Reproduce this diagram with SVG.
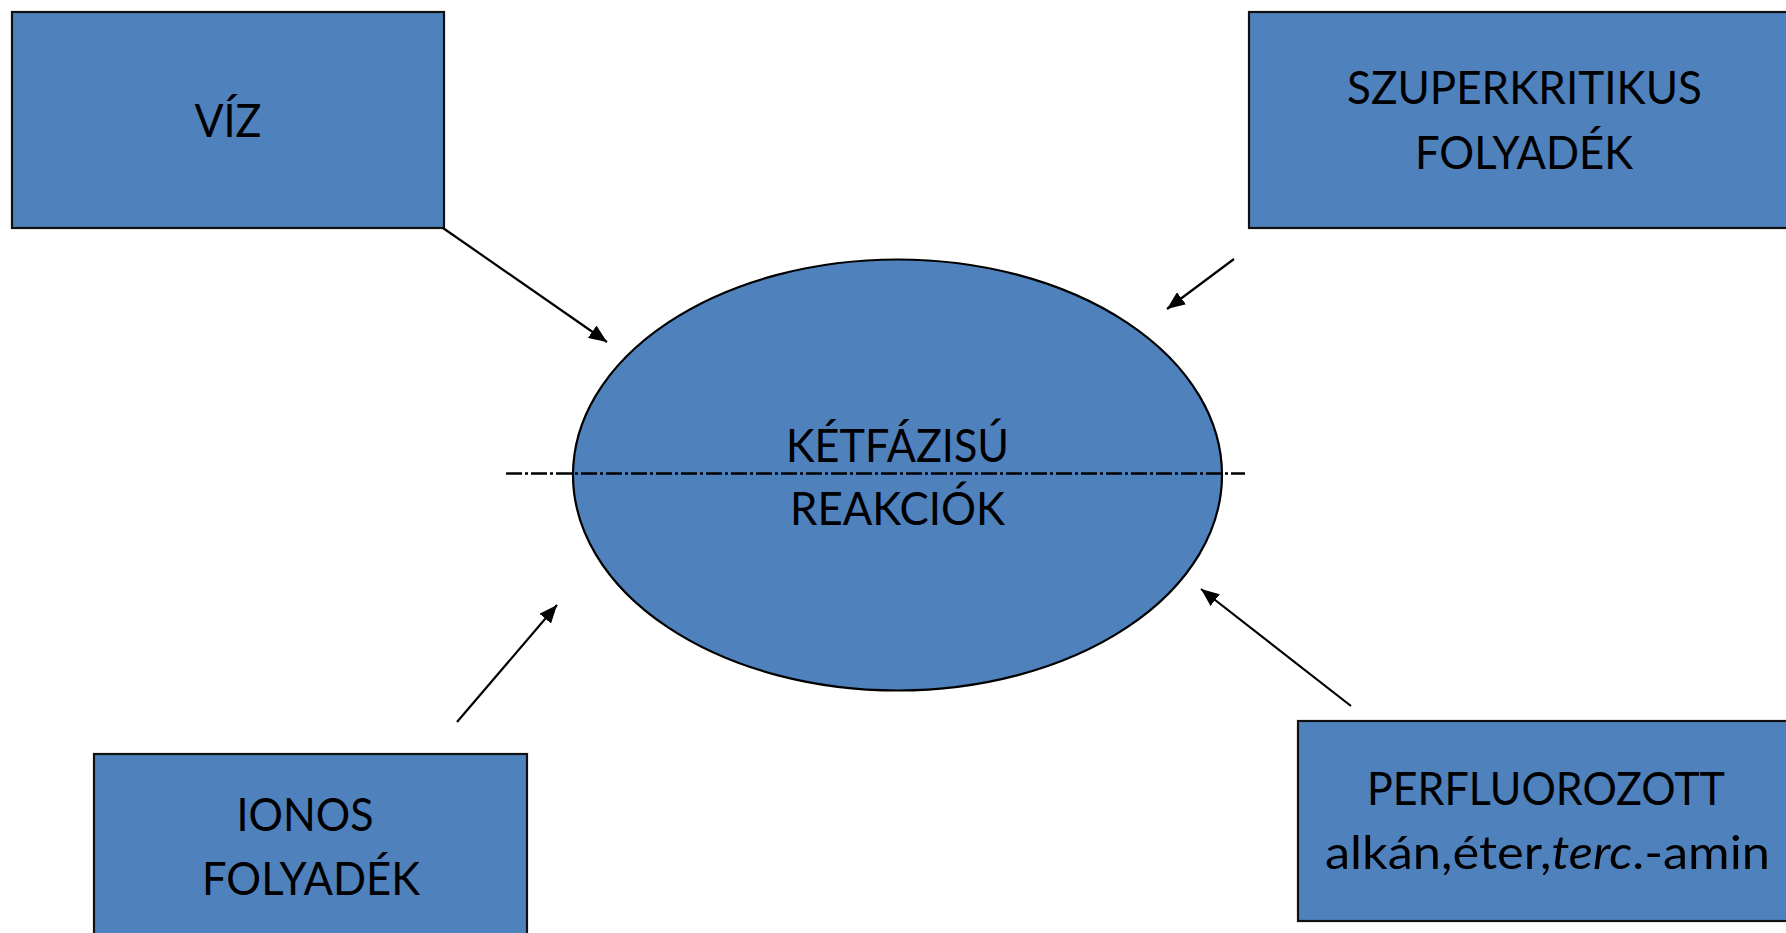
<svg xmlns="http://www.w3.org/2000/svg" width="1786" height="933" viewBox="0 0 1786 933">
<style>
.box{fill:#4F81BD;stroke:#111;stroke-width:2.2}
.ell{fill:#4F81BD;stroke:#000;stroke-width:2.2}
.t{font-family:Lato,"Open Sans",sans-serif;font-size:47px;fill:#000;text-anchor:middle}
.con{stroke:#000;stroke-width:2.2;fill:none;marker-end:url(#ah)}
.dash{stroke:#000;stroke-width:2.4;fill:none;stroke-dasharray:16 3 3 3}
</style>
<defs>
<marker id="ah" markerUnits="userSpaceOnUse" markerWidth="18" markerHeight="15" viewBox="0 0 18 15" refX="18" refY="7.5" orient="auto">
<path d="M0,0 L18,7.5 L0,15 z" fill="#000"/>
</marker>
</defs>
<rect width="1786" height="933" fill="#fff"/>
<g id="node-viz">
<rect class="box" x="12" y="12" width="432" height="216"/>
<text class="t" x="228" y="137" textLength="67" lengthAdjust="spacingAndGlyphs">VÍZ</text>
</g>
<g id="node-szuper">
<rect class="box" x="1249" y="12" width="560" height="216"/>
<text class="t" x="1524.5" y="104" textLength="355" lengthAdjust="spacingAndGlyphs">SZUPERKRITIKUS</text>
<text class="t" x="1524" y="169" textLength="218" lengthAdjust="spacingAndGlyphs">FOLYADÉK</text>
</g>
<g id="node-center">
<ellipse class="ell" cx="897.5" cy="475" rx="324.5" ry="215.5"/>
<text class="t" x="897.5" y="461.5" textLength="223" lengthAdjust="spacingAndGlyphs">KÉTFÁZISÚ</text>
<text class="t" x="897.5" y="525" textLength="215" lengthAdjust="spacingAndGlyphs">REAKCIÓK</text>
</g>
<g id="node-ionos">
<rect class="box" x="94" y="754" width="433" height="200"/>
<text class="t" x="305" y="831" textLength="137" lengthAdjust="spacingAndGlyphs">IONOS</text>
<text class="t" x="311" y="895" textLength="218" lengthAdjust="spacingAndGlyphs">FOLYADÉK</text>
</g>
<g id="node-perfluor">
<rect class="box" x="1298" y="721" width="520" height="200"/>
<text class="t" x="1546" y="805" textLength="358" lengthAdjust="spacingAndGlyphs">PERFLUOROZOTT</text>
<text class="t" x="1547.5" y="869" textLength="445" lengthAdjust="spacingAndGlyphs">alkán,éter,<tspan font-style="italic">terc</tspan>.-amin</text>
</g>
<g id="connectors">
<line class="dash" x1="506" y1="473.5" x2="1245" y2="473.5"/>
<line class="con" x1="443" y1="228" x2="607" y2="342"/>
<line class="con" x1="1234" y1="259" x2="1167" y2="309"/>
<line class="con" x1="457" y1="722" x2="557" y2="605"/>
<line class="con" x1="1351" y1="706" x2="1201" y2="589"/>
</g>
</svg>
